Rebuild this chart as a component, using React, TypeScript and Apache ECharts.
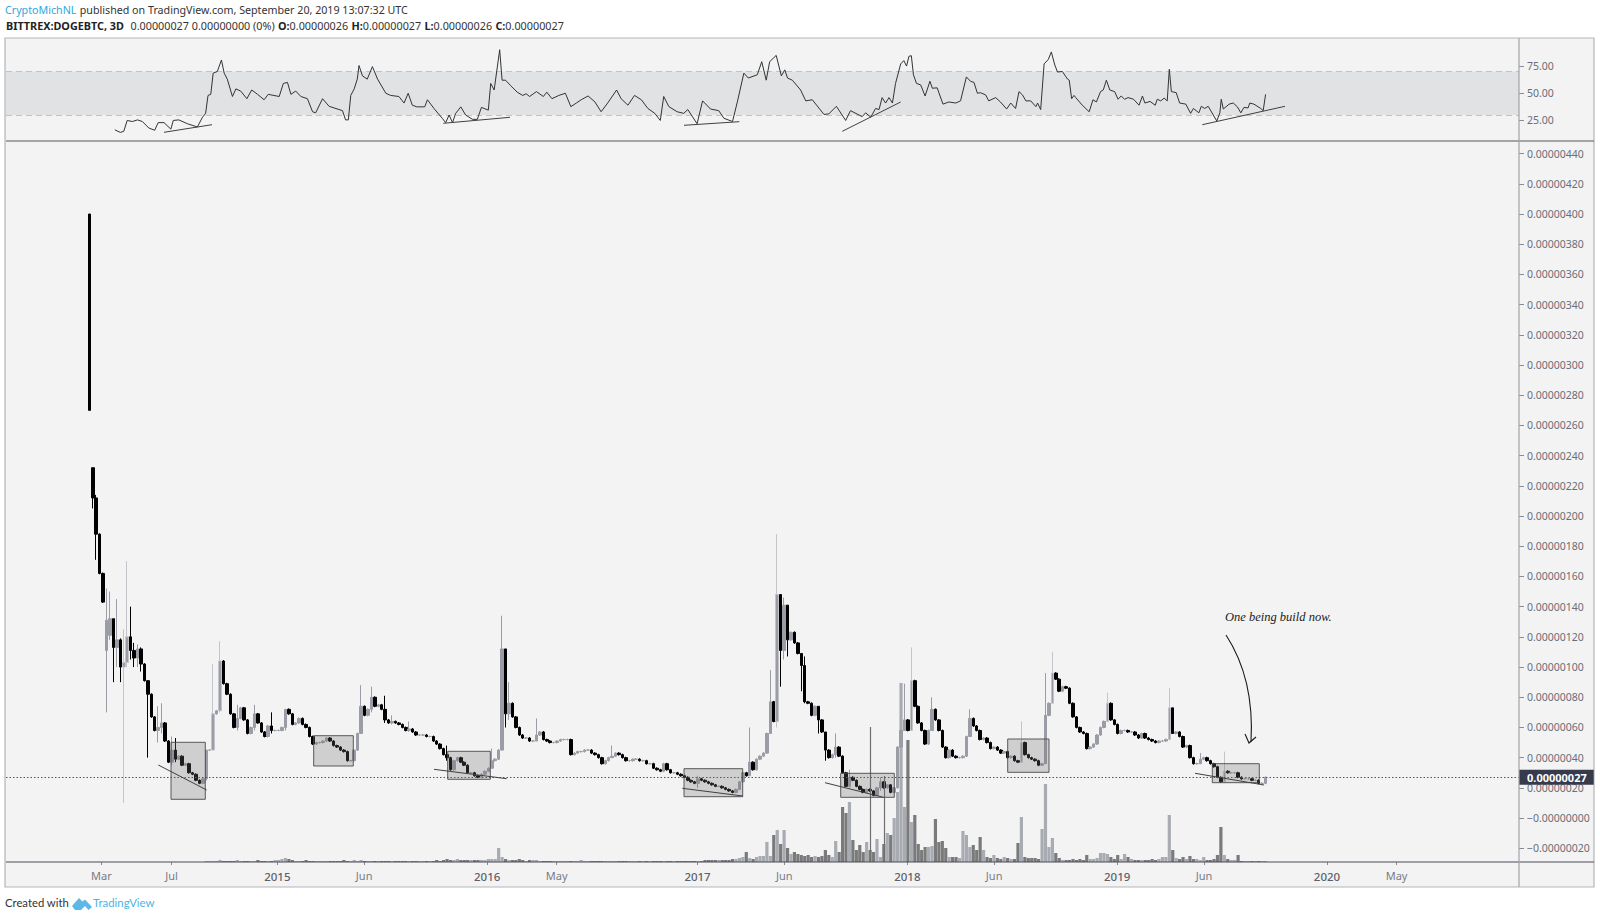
import React, { useEffect, useRef } from "react";
import * as echarts from "echarts";

// Bars are spaced evenly in time; index 0 is the first full candle.
const firstBarDate = Date.UTC(2014, 1, 14);
const barStepDays = 5.983;
const axisStart = Date.UTC(2013, 8, 16);
const axisEnd = Date.UTC(2020, 10, 30);

// Opening listing candle, prices in satoshi (1e-8 BTC)
const listingCandle = { index: -1, open: 400, close: 270 };

const closes = [
  212, 188, 162, 143, 131, 132, 113, 118, 100, 103,
  120, 111, 106, 112, 102, 91, 82, 67, 58, 60,
  63, 51, 37, 45, 39, 41, 35, 36, 30, 29,
  25, 23, 26, 45, 45, 69, 71, 104, 89, 82,
  69, 60, 66, 73, 65, 56, 60, 69, 63, 57,
  54, 61, 58, 58, 58, 60, 72, 69, 62, 63,
  66, 62, 60, 54, 49, 50, 50, 51, 53, 51,
  48, 47, 45, 44, 38, 38, 45, 56, 74, 68,
  72, 80, 74, 75, 72, 65, 63, 64, 63, 62,
  60, 58, 59, 57, 55, 55, 55, 54, 54, 51,
  49, 46, 42, 40, 32, 38, 40, 37, 35, 30,
  30, 28, 27, 29, 31, 33, 38, 39, 45, 112,
  69, 76, 67, 60, 55, 53, 53, 51, 51, 55,
  57, 52, 51, 50, 50, 51, 52, 52, 52, 42,
  43, 44, 44, 45, 45, 43, 42, 40, 36, 38,
  40, 41, 43, 42, 40, 38, 38, 39, 39, 38,
  38, 36, 36, 33, 32, 31, 36, 32, 30, 30,
  29, 28, 27, 25, 24, 23, 26, 25, 24, 23,
  22, 21, 21, 20, 19, 18, 17, 19, 24, 30,
  28, 37, 32, 39, 41, 43, 56, 77, 64, 148,
  111, 141, 118, 123, 116, 109, 101, 77, 76, 68,
  74, 65, 57, 45, 40, 42, 47, 41, 30, 21,
  27, 25, 21, 19, 17, 19, 18, 15, 20, 24,
  20, 22, 17, 20, 47, 58, 65, 58, 91, 74,
  63, 58, 49, 58, 72, 65, 58, 47, 40, 45,
  41, 40, 40, 41, 54, 66, 61, 58, 52, 53,
  50, 46, 47, 45, 43, 44, 40, 41, 38, 37,
  50, 42, 40, 39, 38, 35, 36, 68, 76, 96,
  92, 84, 87, 86, 76, 67, 60, 57, 56, 46,
  47, 49, 55, 60, 64, 76, 65, 62, 56, 58,
  58, 57, 57, 55, 53, 56, 53, 52, 51, 50,
  51, 51, 52, 73, 56, 57, 54, 47, 48, 40,
  36, 36, 39, 40, 38, 36, 34, 27, 24, 31,
  30, 30, 30, 27, 26, 26, 26, 25, 25, 23,
  23, 27,
];

// Opens that differ from the previous close: [bar, open]
const openGaps = [[0, 232], [4, 111], [5, 121]];

// Visible wicks: [bar, high, low]
const wicks = [
  [0, 232, 205], [1, 214, 171], [4, 152, 70], [5, 150, 118], [6, 132, 90], [7, 145, 100],
  [8, 119, 90], [9, 125, 10], [10, 170, 100], [11, 140, 105], [12, 116, 100], [13, 115, 100],
  [14, 113, 97], [16, 91, 40], [19, 74, 50], [20, 76, 56], [23, 54, 35], [24, 53, 37],
  [33, 45, 25], [35, 102, 45], [37, 117, 70], [42, 75, 58], [47, 75, 58], [52, 70, 56],
  [56, 72, 58], [78, 88, 60], [81, 87, 70], [85, 81, 63], [87, 68, 62], [92, 64, 57],
  [103, 48, 38], [116, 46, 33], [119, 134, 45], [120, 112, 60], [121, 90, 65], [129, 66, 52],
  [151, 48, 40], [176, 28, 20], [191, 60, 28], [197, 98, 56], [199, 188, 60], [200, 148, 87],
  [201, 146, 105], [202, 141, 107], [206, 109, 84], [207, 107, 76], [211, 74, 56], [213, 57, 38],
  [216, 56, 40], [220, 32, 20], [229, 27, 18], [236, 89, 58], [238, 113, 58], [244, 80, 58],
  [255, 72, 60], [270, 64, 37], [277, 96, 36], [279, 110, 76], [295, 83, 64], [313, 86, 52],
  [314, 69, 56], [322, 43, 36], [329, 44, 24],
];
const paleWickBars = [9, 10, 35, 37, 199, 238, 270, 279, 295, 313, 329];

// Volume, arbitrary units
const volumes = [
  0, 0, 0, 0, 0, 0, 0, 0, 0, 0,
  0, 0, 0, 0, 0, 0, 0, 0, 0, 0,
  0, 0, 0, 0, 0, 0, 0, 0, 0, 0,
  0, 0, 0, 1, 1, 1, 1, 2, 1, 1,
  1, 1, 2, 1, 1, 1, 1, 1, 2, 1,
  1, 1, 1, 2, 2, 3, 4, 3, 2, 1,
  1, 1, 2, 1, 1, 1, 1, 1, 1, 1,
  1, 1, 1, 2, 1, 1, 2, 1, 2, 1,
  1, 1, 1, 1, 1, 1, 1, 1, 1, 1,
  1, 1, 1, 1, 1, 1, 1, 1, 1, 1,
  2, 1, 2, 3, 2, 2, 3, 2, 2, 2,
  2, 2, 2, 2, 2, 3, 3, 3, 14, 5,
  3, 2, 2, 2, 3, 2, 1, 2, 2, 2,
  1, 1, 1, 1, 1, 1, 1, 1, 1, 1,
  1, 1, 2, 1, 1, 1, 1, 1, 1, 1,
  1, 1, 1, 1, 1, 1, 1, 1, 1, 1,
  1, 1, 1, 1, 1, 1, 1, 1, 1, 1,
  1, 1, 1, 1, 1, 1, 1, 1, 2, 2,
  2, 2, 2, 2, 2, 2, 3, 3, 4, 5,
  10, 4, 3, 5, 6, 6, 20, 6, 27, 32,
  18, 32, 14, 8, 10, 8, 7, 6, 7, 5,
  6, 5, 6, 12, 7, 5, 21, 10, 55, 49,
  60, 22, 12, 17, 10, 20, 12, 10, 23, 5,
  18, 29, 27, 44, 70, 179, 55, 122, 40, 47,
  18, 12, 15, 15, 16, 43, 20, 21, 14, 5,
  5, 5, 4, 31, 27, 15, 17, 12, 25, 12,
  5, 4, 7, 4, 3, 5, 4, 3, 3, 19,
  45, 5, 4, 4, 4, 3, 33, 78, 15, 24,
  9, 4, 2, 2, 2, 3, 2, 3, 2, 7,
  3, 3, 4, 9, 9, 8, 5, 3, 7, 3,
  8, 5, 3, 2, 2, 2, 2, 2, 3, 2,
  3, 5, 5, 47, 12, 4, 3, 5, 3, 6,
  3, 3, 2, 5, 2, 2, 3, 7, 35, 7,
  3, 2, 2, 7, 1, 1, 1, 1, 1, 1,
  1, 1,
];
// The two hair-thin volume spikes: [bar, volume]
const thinVolumeSpikes = [[226, 135], [230, 86]];

// RSI readings: bar position and value
const rsiBars = [
  6.4, 8, 9, 10, 11.5, 13, 14.4, 16.3, 18, 19, 20.7, 22.7, 23.4, 25, 27.5, 30.4, 31.9, 32.8, 33.5, 34.3,
  35, 36.2, 37.4, 38.2, 39.1, 40.6, 41.6, 43, 44.8, 46.2, 47.9, 49.8, 51, 54.2, 55.4, 56.6, 57.6, 59, 60.5, 62.4,
  63.9, 64.8, 66.8, 68.7, 72.6, 73.5, 74.3, 75, 76, 76.9, 77.4, 78.4, 79.8, 81.3, 82.8, 85.2, 86.6, 89, 90.5, 91.7,
  92.9, 94.2, 96.5, 97.3, 99.2, 101.6, 102.6, 103.6, 104.6, 105.5, 107, 108.4, 110.4, 111.8, 113, 115, 115.7, 116.7, 118.3, 119,
  120, 121.5, 123.4, 125, 126, 127, 129, 131, 132, 133.5, 135.5, 137.4, 139, 140.6, 142, 144, 146, 147.8, 149.7, 152.3,
  153.6, 155.6, 157.5, 159.5, 161.4, 163.4, 165, 166, 167.5, 169.9, 171.8, 173, 175.7, 177.3, 179.6, 182, 183.5, 186, 187.4, 189.3,
  190.6, 193.2, 194.5, 195.8, 196.8, 198.7, 200.2, 201.2, 202, 203.4, 205.8, 207.3, 209.2, 212.6, 214, 216.2, 218.9, 220.3, 223.7, 224.7,
  226.2, 227.6, 228.6, 229.5, 230.5, 231.5, 232.5, 233.4, 234.9, 235.8, 236.6, 237.3, 238, 238.6, 239.5, 240.7, 242, 243.4, 244.1, 245.5,
  247.2, 248.9, 250.9, 252.3, 254, 255.2, 256.2, 257.2, 258.1, 259.6, 260.5, 262.5, 263.9, 265.7, 266.9, 268.3, 269.3, 270.3, 271.3, 272.7,
  274.2, 274.7, 275.6, 276.6, 277.8, 278.7, 279.7, 280.5, 281.9, 283.4, 283.9, 284.6, 285.3, 285.8, 287.7, 289.7, 290.8, 291.8, 293, 293.8,
  294.7, 295.7, 297.1, 298.1, 299, 300, 301, 302.6, 304.2, 305.2, 305.9, 307.4, 308.9, 309.5, 310.5, 311.5, 312.4, 313, 313.6, 315,
  316, 317.8, 319.2, 320, 321.6, 322.3, 323.3, 324.3, 326.8, 327.7, 328.1, 328.7, 330.4, 331.6, 332.8, 333.8, 334.7, 335.9, 336.4, 337.6,
  339.6, 340.3, 341,
];
const rsiValues = [
  16.4, 14, 15, 25, 24, 25.5, 24, 18, 16, 23, 23, 17, 25, 25.5, 22, 19, 28, 31.5, 48, 49,
  68.5, 70, 80.6, 68.5, 63, 47, 54, 52, 45, 53, 49, 44, 49, 47, 59, 60, 49, 52, 47, 45,
  33, 32, 45, 38, 34, 25.5, 25.5, 48, 54, 63, 75.5, 66, 63, 74.5, 63, 50, 48, 47, 41, 50,
  39, 37.5, 37.5, 44, 36, 27, 23, 30, 23, 31.5, 37.5, 30, 26, 26, 37, 34.5, 59, 53, 90, 62,
  62, 57, 51, 48, 49.5, 47, 51.5, 47, 51, 45, 48, 50, 37.7, 41, 44, 47.5, 42, 33, 41, 53,
  45, 39, 48, 44, 36, 31.5, 25, 47, 37.7, 33, 31.5, 35, 22, 43, 35.5, 34, 27, 24, 42, 68.5,
  64, 67, 79, 62, 79, 84.8, 66, 71.5, 64, 62, 53, 43, 44, 30.5, 31, 38, 25, 34, 28.5, 32,
  28, 36, 35, 46, 41, 46, 41, 59, 77, 80, 75, 84, 84.5, 67, 59, 57.7, 47.5, 61, 54.6, 55,
  40, 42, 41, 43, 65, 61, 60, 50, 50.5, 48.5, 43, 46, 42, 35.5, 41, 36, 51.5, 48.5, 43, 43,
  37.7, 41, 35, 77, 81, 88, 76, 69.5, 70, 63, 62, 45, 48, 46, 39, 33, 44, 42, 51.5, 53,
  62, 53, 51.5, 44.5, 47.5, 44.5, 46, 44.5, 39, 47.5, 41, 42.5, 39, 44.5, 43, 45.5, 43, 72, 51.5, 50.6,
  41, 40, 31.5, 36, 32, 38, 36, 38, 24.5, 32, 44.5, 35.5, 40, 41, 37.5, 32, 37, 36.5, 41, 40,
  36, 34, 49,
];

const priceTicks = [-20, 0, 20, 40, 60, 80, 100, 120, 140, 160, 180, 200, 220, 240, 260, 280, 300, 320, 340, 360, 380, 400, 420, 440];
const rsiTicks = [25, 50, 75];
const timeTicks = [
  Date.UTC(2014, 2, 1), Date.UTC(2014, 6, 1), Date.UTC(2015, 0, 1), Date.UTC(2015, 5, 1), Date.UTC(2016, 0, 1),
  Date.UTC(2016, 4, 1), Date.UTC(2017, 0, 1), Date.UTC(2017, 5, 1), Date.UTC(2018, 0, 1), Date.UTC(2018, 5, 1),
  Date.UTC(2019, 0, 1), Date.UTC(2019, 5, 1), Date.UTC(2020, 0, 1), Date.UTC(2020, 4, 1),
];
const monthNames = ["Jan", "Feb", "Mar", "Apr", "May", "Jun", "Jul", "Aug", "Sep", "Oct", "Nov", "Dec"];

const FONT = '"Noto Sans", sans-serif';
const UP = "#9a9ca6";
const DOWN = "#000000";

const barDate = (i: number) => firstBarDate + i * barStepDays * 86400000;

function buildCandles() {
  const gap = new Map(openGaps.map(([i, o]) => [i, o]));
  const wick = new Map(wicks.map(([i, h, l]) => [i, [h, l]]));
  const pale = new Set(paleWickBars);
  const out: any[] = [
    {
      value: [barDate(listingCandle.index), listingCandle.open, listingCandle.close, listingCandle.close, listingCandle.open],
      itemStyle: { color0: DOWN, borderColor0: DOWN },
    },
  ];
  closes.forEach((c, i) => {
    const o = gap.has(i) ? gap.get(i)! : closes[i - 1];
    const w = wick.get(i);
    const hi = w ? Math.max(w[0], o, c) : Math.max(o, c) + 0.6;
    const lo = w ? Math.min(w[1], o, c) : Math.min(o, c) - 0.6;
    const item: any = { value: [barDate(i), o, c, lo, hi] };
    if (pale.has(i)) item.itemStyle = { borderColor: "#c3c4ca", borderColor0: "#9a9ca6", color: UP };
    out.push(item);
  });
  return out;
}

const boxes = [
  [171, 742.3, 205.3, 799.3], [313.7, 735.7, 353.3, 766], [447.7, 751.3, 490.3, 779.3], [684, 768.7, 742.7, 796.7],
  [840.7, 773.3, 894.3, 797.3], [1007.7, 739, 1049, 772.3], [1212.3, 763.7, 1259.3, 782.7],
];
const drawnLines = [
  [158.3, 765, 206.7, 790], [434, 769.3, 506.7, 778.7], [682.3, 788.3, 742.7, 796], [825, 782.7, 883.3, 797.3], [1195, 773.3, 1264, 785],
  [164, 132.3, 212, 124.7], [443.3, 123.3, 510, 117.3], [684, 125.3, 739.3, 121.7], [842.3, 131.3, 900.7, 102], [1202.3, 124.7, 1285, 106.3],
];

export default function App() {
  const ref = useRef<HTMLDivElement>(null);
  useEffect(() => {
    document.body.style.margin = "0";
    echarts.graphic.registerShape(
      "tvlogo",
      echarts.graphic.extendPath("M0 9 L7 1 L10.5 4.5 L13 2.5 L20 10 L16.5 13 L13 9 L9 13 L3 13 Z", {})
    );
    const chart = echarts.init(ref.current!, undefined, { renderer: "svg" });
    const candles = buildCandles();
    const frameLine = (x1: number, y1: number, x2: number, y2: number, stroke: string, lineWidth = 1) => ({
      type: "line", z: 20, silent: true, shape: { x1, y1, x2, y2 }, style: { stroke, lineWidth },
    });
    chart.setOption({
      animation: false,
      backgroundColor: "#ffffff",
      textStyle: { fontFamily: FONT },
      grid: [
        { left: 6, top: 38, width: 1513, height: 103 },
        { left: 6, top: 142, width: 1513, height: 720 },
      ],
      xAxis: [
        { type: "value", gridIndex: 0, min: axisStart, max: axisEnd, show: false, axisLine: { onZero: false } },
        {
          type: "value",
          gridIndex: 1,
          min: axisStart,
          max: axisEnd,
          position: "bottom",
          axisLine: { show: false, onZero: false },
          splitLine: { show: false },
          axisTick: { show: true, length: 3, customValues: timeTicks, lineStyle: { color: "#8a8c94" } },
          axisLabel: {
            customValues: timeTicks,
            margin: 8,
            color: "#787b86",
            fontSize: 11,
            fontFamily: FONT,
            hideOverlap: false,
            formatter: (v: number) => {
              const d = new Date(v);
              return d.getUTCMonth() === 0 ? `{y|${d.getUTCFullYear()}}` : monthNames[d.getUTCMonth()];
            },
            rich: { y: { color: "#5d606b", fontSize: 11.5, fontFamily: FONT, fontWeight: 500 } },
          },
        },
      ],
      yAxis: [
        {
          type: "value", gridIndex: 0, position: "right", min: 6.1, max: 100.8,
          axisLine: { show: false }, splitLine: { show: false },
          axisTick: { show: true, length: 5, customValues: rsiTicks, lineStyle: { color: "#8a8c94" } },
          axisLabel: {
            customValues: rsiTicks, margin: 8, color: "#6a6d78", fontSize: 10.5, fontFamily: FONT,
            formatter: (v: number) => v.toFixed(2),
          },
        },
        {
          type: "value", gridIndex: 1, position: "right", min: -29.1, max: 447.7,
          axisLine: { show: false }, splitLine: { show: false },
          axisTick: { show: true, length: 5, customValues: priceTicks, lineStyle: { color: "#8a8c94" } },
          axisLabel: {
            customValues: priceTicks, margin: 8, color: "#6a6d78", fontSize: 10.5, fontFamily: FONT,
            formatter: (v: number) => (v <= 0 ? "\u2212" : "") + (Math.abs(v) * 1e-8).toFixed(8),
          },
        },
        { type: "value", gridIndex: 1, min: 0, max: 720, show: false },
      ],
      series: [
        {
          type: "line",
          name: "RSI",
          xAxisIndex: 0,
          yAxisIndex: 0,
          symbol: "none",
          z: 5,
          lineStyle: { color: "#333333", width: 1 },
          data: rsiBars.map((b, i) => [barDate(b), rsiValues[i]]),
          markArea: {
            silent: true,
            itemStyle: { color: "#e1e2e4" },
            data: [[{ yAxis: 30 }, { yAxis: 70 }]],
          },
          markLine: {
            silent: true,
            symbol: "none",
            label: { show: false },
            lineStyle: { color: "#c2c3c5", type: [6, 4], width: 1.2 },
            data: [{ yAxis: 70 }, { yAxis: 30 }],
          },
        },
        {
          type: "bar",
          name: "Volume",
          xAxisIndex: 1,
          yAxisIndex: 2,
          barWidth: 3.2,
          z: 2,
          data: volumes.map((v, i) => {
            const open = openGaps.find((g) => g[0] === i)?.[1] ?? closes[i - 1];
            return { value: [barDate(i), v], itemStyle: { color: closes[i] < open ? "#7a7a7a" : "#a9abb3" } };
          }),
          markLine: {
            silent: true,
            symbol: "none",
            label: { show: false },
            lineStyle: { color: "#6e6e6e", type: "solid", width: 1.2 },
            data: thinVolumeSpikes.map(([b, v]) => [
              { coord: [barDate(b), 0] },
              { coord: [barDate(b), v] },
            ]),
          },
        },
        {
          type: "candlestick",
          name: "DOGEBTC",
          xAxisIndex: 1,
          yAxisIndex: 1,
          barWidth: 3,
          z: 4,
          itemStyle: { color: UP, color0: DOWN, borderColor: UP, borderColor0: DOWN, borderWidth: 1 },
          data: candles,
          markLine: {
            silent: true,
            symbol: "none",
            lineStyle: { color: "#555555", type: [1.5, 2], width: 1 },
            label: {
              show: true,
              position: "end",
              distance: 0,
              formatter: "0.00000027",
              color: "#ffffff",
              fontWeight: "bold",
              fontSize: 11,
              fontFamily: FONT,
              backgroundColor: "#363a4d",
              padding: [2, 7, 2, 8],
            },
            data: [{ yAxis: 27 }],
          },
        },
      ],
      graphic: [
        { type: "rect", z: -10, silent: true, shape: { x: 5, y: 38, width: 1589, height: 849 }, style: { fill: "#f3f3f3", stroke: "#b4b5b7", lineWidth: 1.2 } },
        frameLine(6, 141, 1594, 141, "#55575f"),
        frameLine(6, 862, 1594, 862, "#4a4c58"),
        frameLine(1519, 38, 1519, 887, "#a2a3a7", 1.2),
        ...boxes.map(([x1, y1, x2, y2]) => ({
          type: "rect", z: 12, silent: true,
          shape: { x: x1, y: y1, width: x2 - x1, height: y2 - y1 },
          style: { fill: "rgba(110,110,110,0.27)", stroke: "#4a4a4a", lineWidth: 0.9 },
        })),
        ...drawnLines.map(([x1, y1, x2, y2]) => frameLine(x1, y1, x2, y2, "#404040", 1)),
        {
          type: "bezierCurve", z: 13, silent: true,
          shape: { x1: 1226, y1: 635, cpx1: 1241, cpy1: 658, cpx2: 1254, cpy2: 690, x2: 1251, y2: 742 },
          style: { stroke: "#1a1a1a", lineWidth: 1.1, fill: "none" },
        },
        {
          type: "polyline", z: 13, silent: true,
          shape: { points: [[1245, 734], [1249, 743], [1256, 737]] },
          style: { stroke: "#1a1a1a", lineWidth: 1.1, fill: "none" },
        },
        {
          type: "text", z: 13, silent: true, x: 1225, y: 610,
          style: { text: "One being build now.", font: 'italic 12.5px "Liberation Serif", serif', fill: "#1a1a1a" },
        },
        {
          type: "text", z: 20, silent: true, x: 5, y: 4,
          style: {
            text: "{a|CryptoMichNL} {b|published on TradingView.com, September 20, 2019 13:07:32 UTC}",
            rich: {
              a: { fontFamily: FONT, fontSize: 10.7, fill: "#2ea6e0", color: "#2ea6e0" },
              b: { fontFamily: FONT, fontSize: 10.7, fill: "#333333", color: "#333333" },
            },
          },
        },
        {
          type: "text", z: 20, silent: true, x: 6, y: 19,
          style: {
            text: "{k|BITTREX:DOGEBTC, 3D}  {v|0.00000027 0.00000000 (0%)} {k|O:}{v|0.00000026} {k|H:}{v|0.00000027} {k|L:}{v|0.00000026} {k|C:}{v|0.00000027}",
            rich: {
              k: { fontFamily: FONT, fontSize: 10.8, fontWeight: "bold", fill: "#222222", color: "#222222" },
              v: { fontFamily: FONT, fontSize: 10.8, fill: "#333333", color: "#333333" },
            },
          },
        },
        {
          type: "text", z: 20, silent: true, x: 5, y: 897,
          style: { text: "Created with", font: '11.3px "Lato", sans-serif', fill: "#333333" },
        },
        { type: "tvlogo", z: 20, silent: true, x: 72, y: 897, style: { fill: "#5bb8e8" } },
        {
          type: "text", z: 20, silent: true, x: 93, y: 897,
          style: { text: "TradingView", font: '11.4px "Lato", sans-serif', fill: "#4db3e6" },
        },
      ],
    });
    return () => chart.dispose();
  }, []);
  return <div ref={ref} style={{ position: "absolute", left: 0, top: 0, width: 1600, height: 919 }} />;
}
